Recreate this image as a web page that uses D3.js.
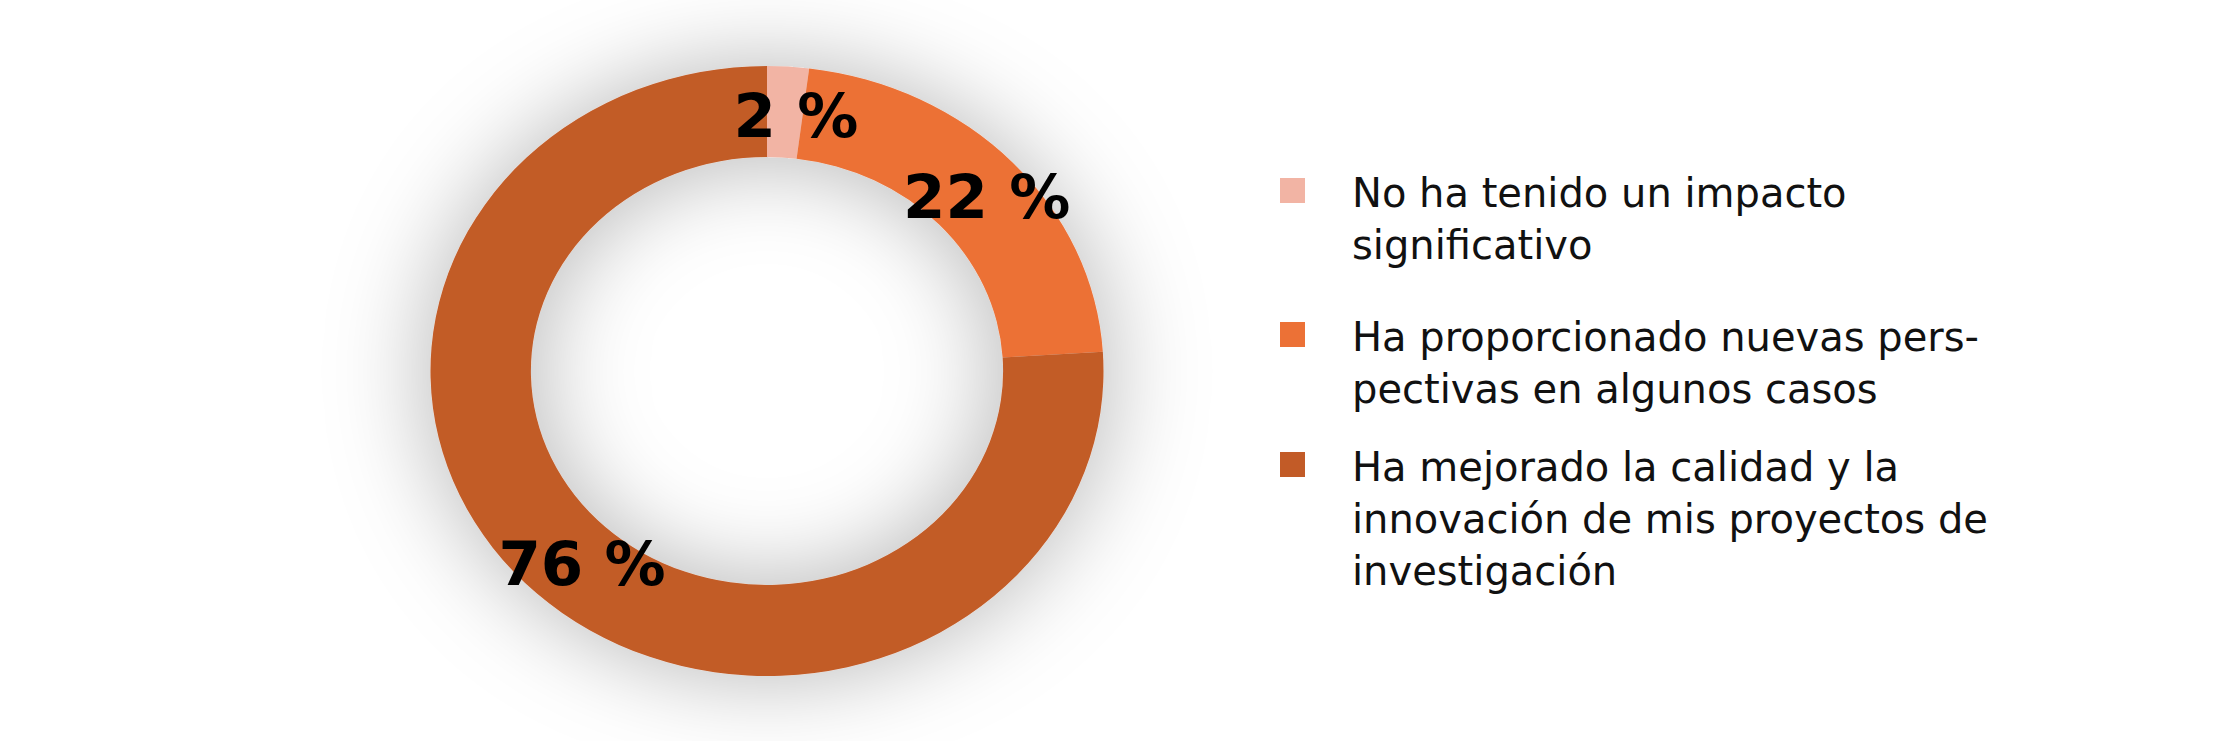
<!DOCTYPE html>
<html>
<head>
<meta charset="utf-8">
<script src="https://cdn.jsdelivr.net/npm/d3@7"></script>
<style>
  html, body { margin: 0; padding: 0; background: #ffffff; }
  svg { display: block; }
</style>
</head>
<body>
<svg id="chart" width="2236" height="741"></svg>
<script>
// ---- data ----
const categories = [
  "No ha tenido un impacto significativo",
  "Ha proporcionado nuevas perspectivas en algunos casos",
  "Ha mejorado la calidad y la innovación de mis proyectos de investigación"
];
const values = [2, 22, 76];
const valueLabels = ["2 %", "22 %", "76 %"];
const legendLines = [
  ["No ha tenido un impacto", "significativo"],
  ["Ha proporcionado nuevas pers-", "pectivas en algunos casos"],
  ["Ha mejorado la calidad y la", "innovación de mis proyectos de", "investigación"]
];
const colors = ["#F2B4A4", "#EC7136", "#C25B27"];

// ---- layout ----
const W = 2236, H = 741;
const cx = 767, cy = 371;
const outerR = 305, innerR = 214;
const stretchX = 336.5 / 305;
const legendX = 1280, legendTextX = 1352, swatch = 25;
const legendTops = [178, 322, 452];
const lineH = 52;

const svg = d3.select("#chart");

const defs = svg.append("defs");
const f = defs.append("filter").attr("id", "glow")
  .attr("x", "-70%").attr("y", "-70%").attr("width", "240%").attr("height", "240%");
f.append("feGaussianBlur").attr("in", "SourceAlpha").attr("stdDeviation", 46).attr("result", "b");
f.append("feFlood").attr("flood-color", "#000").attr("flood-opacity", 0.3).attr("result", "c");
f.append("feComposite").attr("in", "c").attr("in2", "b").attr("operator", "in").attr("result", "s");
const m = f.append("feMerge");
m.append("feMergeNode").attr("in", "s");
m.append("feMergeNode").attr("in", "SourceGraphic");

const color = d3.scaleOrdinal().domain(categories).range(colors);
const pie = d3.pie().sort(null).value(d => d.value);
const arcs = pie(categories.map((c, i) => ({ cat: c, value: values[i], label: valueLabels[i] })));
const arc = d3.arc().innerRadius(innerR).outerRadius(outerR);
const labelArc = d3.arc().innerRadius((innerR + outerR) / 2).outerRadius((innerR + outerR) / 2);

const ring = svg.append("g")
  .attr("transform", `translate(${cx},${cy}) scale(${stretchX},1)`)
  .attr("filter", "url(#glow)");
ring.selectAll("path").data(arcs).join("path")
  .attr("d", arc)
  .attr("fill", d => color(d.data.cat));

const labels = svg.append("g").attr("transform", `translate(${cx},${cy})`);
labels.selectAll("text").data(arcs).join("text")
  .attr("x", d => labelArc.centroid(d)[0] * stretchX + 11)
  .attr("y", d => labelArc.centroid(d)[1] + 25)
  .attr("text-anchor", "middle")
  .attr("font-family", "DejaVu Sans, sans-serif")
  .attr("font-weight", "bold")
  .attr("font-size", 61)
  .attr("fill", "#000")
  .text(d => d.data.label);

const leg = svg.append("g");
const items = leg.selectAll("g").data(categories).join("g")
  .attr("transform", (d, i) => `translate(0,${legendTops[i]})`);
items.append("rect")
  .attr("x", legendX).attr("y", 0)
  .attr("width", swatch).attr("height", swatch)
  .attr("fill", d => color(d));
items.append("text")
  .attr("font-family", "DejaVu Sans, sans-serif")
  .attr("font-size", 40)
  .attr("fill", "#111")
  .selectAll("tspan").data((d, i) => legendLines[i]).join("tspan")
  .attr("x", legendTextX)
  .attr("y", (d, j) => 29 + j * lineH)
  .text(d => d);
</script>
</body>
</html>
